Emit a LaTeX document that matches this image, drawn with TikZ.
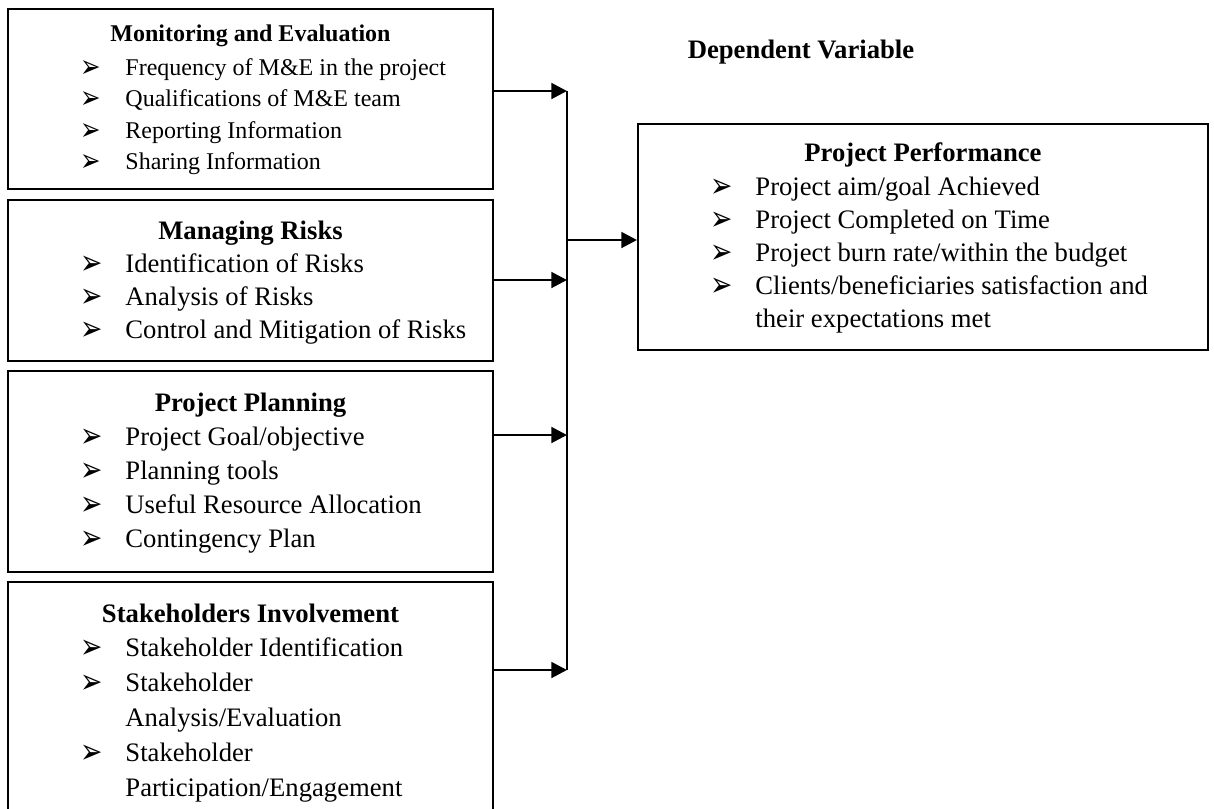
\documentclass[tikz,border=0pt]{standalone}
\usepackage{fontspec}
\setmainfont{Liberation Serif}
\newfontfamily\dingfont{DejaVu Sans}
\usetikzlibrary{arrows.meta,fit}

\tikzset{
  panel/.style={draw, line width=0.9pt, inner sep=0pt},
  head/.style={anchor=base, inner sep=0pt, font=\fontsize{12}{14}\selectfont\bfseries},
  entry/.style={anchor=base west, inner sep=0pt, font=\fontsize{12}{14}\selectfont},
  tick/.style={anchor=base west, inner sep=0pt, font=\dingfont\fontsize{12}{12}\selectfont},
  feed/.style={line width=1.3pt, -{Triangle[length=7pt,width=7pt]}},
  bus/.style={line width=0.9pt},
}
\newcommand{\tip}{\raisebox{-0.9pt}{\scalebox{1}[1.3]{➢}}}

\begin{document}
\begin{tikzpicture}[x=0.45pt,y=-0.45pt]
\useasboundingbox (0,0) rectangle (1214,809);
% independent variables
\node[panel, fit={(8,9) (493,189)}] (mne) {};
\node[head, font=\fontsize{10.8}{13}\selectfont\bfseries] (mne-t) at (250.5,41) {Monitoring and Evaluation};
\foreach \t [count=\i] in {Frequency of M\&E in the project, Qualifications of M\&E team, Reporting Information, Sharing Information}{
  \node[tick, font=\dingfont\fontsize{11}{11}\selectfont] (mne-b\i) at (80,{75+31.6*(\i-1)}) {\tip};
  \node[entry, font=\fontsize{10.8}{13}\selectfont] (mne-i\i) at (125,{75+31.6*(\i-1)}) {\t};
}

\node[panel, fit={(8,200) (493,361)}] (risk) {};
\node[head] (risk-t) at (250.5,239) {Managing Risks};
\foreach \t [count=\i] in {Identification of Risks, Analysis of Risks, Control and Mitigation of Risks}{
  \node[tick] (risk-b\i) at (80,{272+33*(\i-1)}) {\tip};
  \node[entry] (risk-i\i) at (125,{272+33*(\i-1)}) {\t};
}

\node[panel, fit={(8,371) (493,572)}] (plan) {};
\node[head] (plan-t) at (250.5,411) {Project Planning};
\foreach \t [count=\i] in {Project Goal/objective, Planning tools, Useful Resource Allocation, Contingency Plan}{
  \node[tick] (plan-b\i) at (80,{445+34*(\i-1)}) {\tip};
  \node[entry] (plan-i\i) at (125,{445+34*(\i-1)}) {\t};
}

\node[panel, fit={(8,582) (493,830)}] (sh) {};
\node[head] (sh-t) at (250.5,622) {Stakeholders Involvement};
\foreach \y/\b/\t [count=\i] in {656/1/{Stakeholder Identification}, 691/1/{Stakeholder}, 726/0/{Analysis/Evaluation}, 761/1/{Stakeholder}, 796/0/{Participation/Engagement}}{
  \node[entry] (sh-i\i) at (125,\y) {\t};
  \ifnum\b=1 \node[tick] (sh-b\i) at (80,\y) {\tip}; \fi
}

% dependent variable
\node[head] (dv) at (801,58) {Dependent Variable};
\node[panel, fit={(638,124) (1208,350)}] (perf) {};
\node[head] (perf-t) at (923,161) {Project Performance};
\foreach \y/\b/\t [count=\i] in {195/1/{Project aim/goal Achieved}, 228/1/{Project Completed on Time}, 261/1/{Project burn rate/within the budget}, 294/1/{Clients/beneficiaries satisfaction and}, 327/0/{their expectations met}}{
  \node[entry] (perf-i\i) at (755,\y) {\t};
  \ifnum\b=1 \node[tick] (perf-b\i) at (710,\y) {\tip}; \fi
}

% connectors
\coordinate (j1) at (567,91);
\coordinate (j2) at (567,280);
\coordinate (j3) at (567,435);
\coordinate (j4) at (567,670);
\coordinate (jm) at (567,240);
\draw[bus] (j1) -- (j4);
\foreach \b/\j in {mne/j1, risk/j2, plan/j3, sh/j4}
  \draw[feed] (\b.east |- \j) -- (\j);
\draw[feed] (jm) -- (perf.west |- jm);
\end{tikzpicture}
\end{document}
